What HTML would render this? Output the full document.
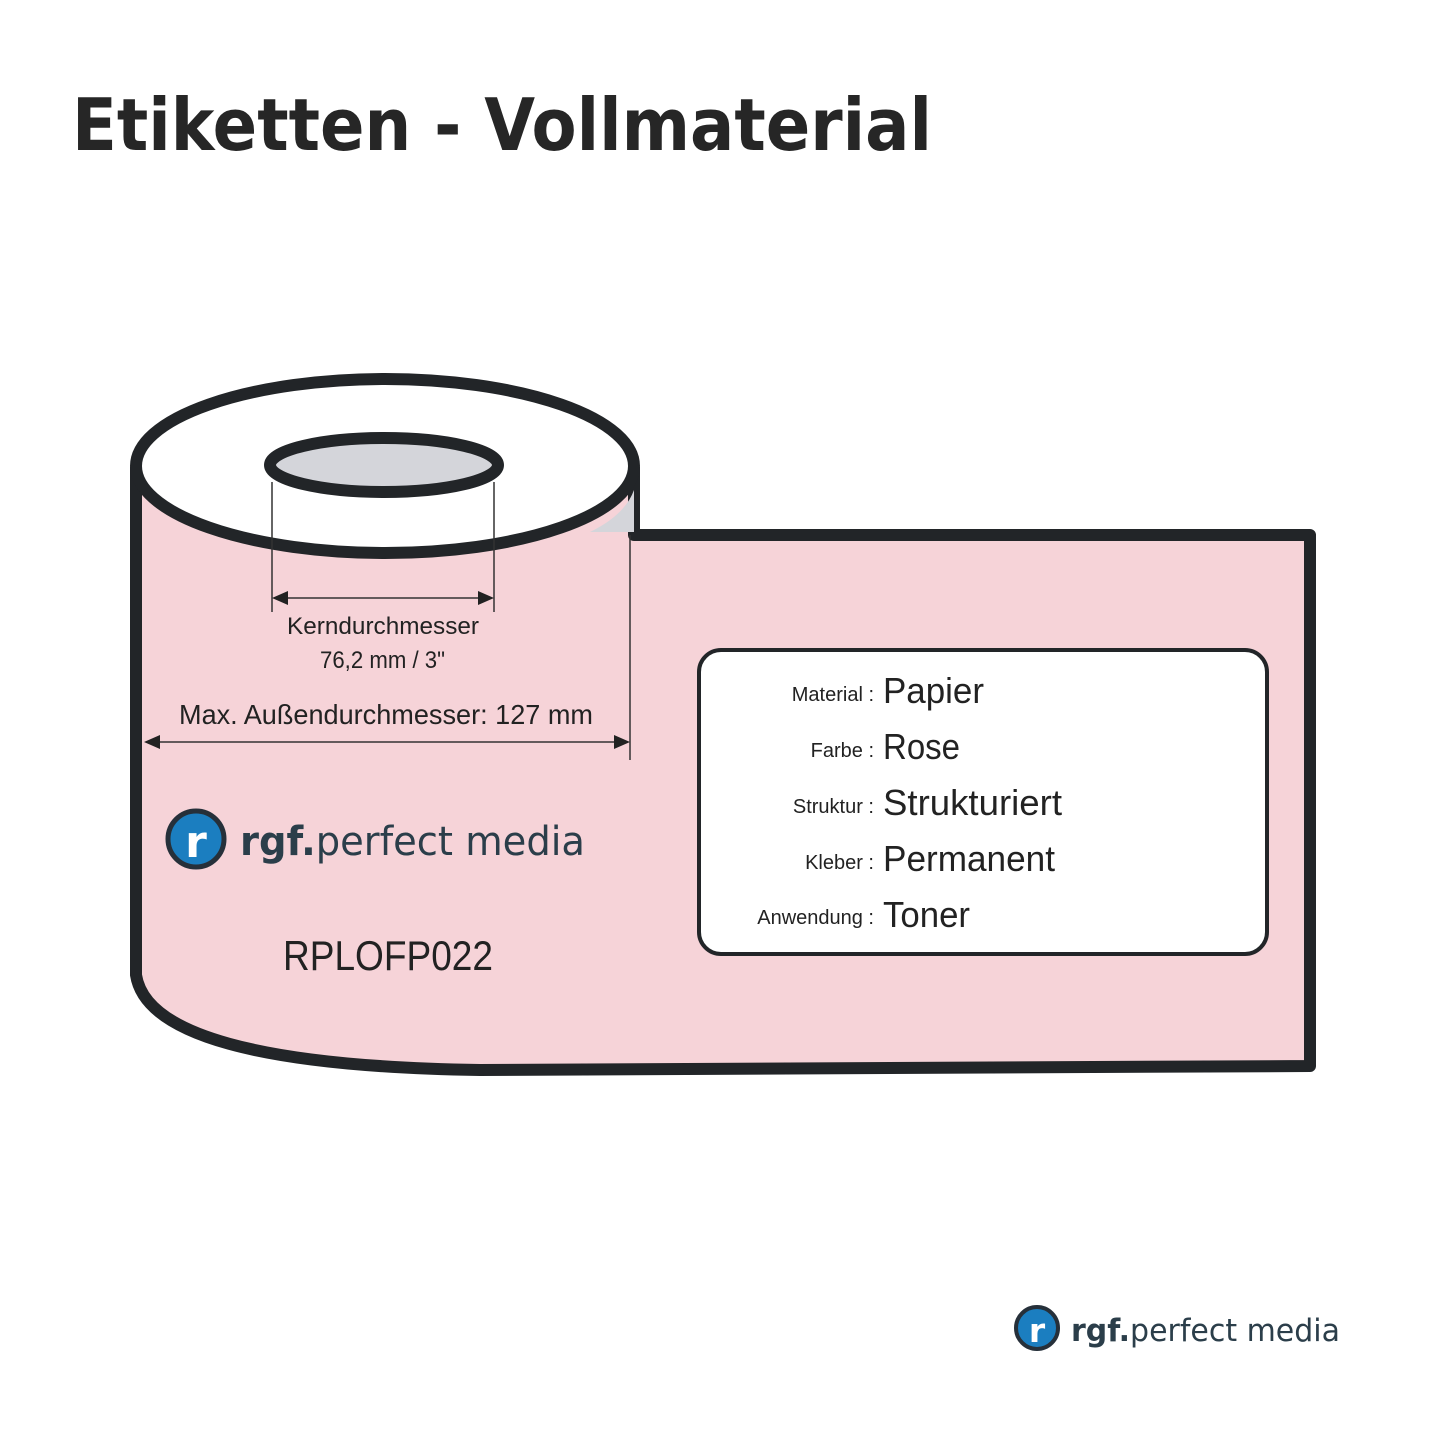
<!DOCTYPE html>
<html><head><meta charset="utf-8"><style>
body{margin:0;background:#fff;}
svg{display:block}
</style></head><body>
<svg width="1445" height="1445" viewBox="0 0 1445 1445" xmlns="http://www.w3.org/2000/svg">
<rect width="1445" height="1445" fill="#fff"/>
<text x="72" y="150" font-family="DejaVu Sans, Liberation Sans, sans-serif" font-weight="bold" font-size="72" fill="#262626" textLength="860" lengthAdjust="spacingAndGlyphs">Etiketten - Vollmaterial</text>
<path d="M560,530 L634,530 L634,470 Z" fill="#d4d5da"/>
<path d="M136,467 L136,975 Q150,1065 480,1070 L1310,1066 L1310,535 L634,535 L634,467" fill="#f6d3d8" stroke="#222528" stroke-width="12" stroke-linejoin="round"/>
<path d="M590,532 Q625,515 634,490 L634,532 Z" fill="#d4d5da"/>
<ellipse cx="385" cy="466" rx="249" ry="87" fill="#fff" stroke="#222528" stroke-width="12"/>
<ellipse cx="384" cy="465" rx="114" ry="27" fill="#d4d5da" stroke="#222528" stroke-width="12"/>
<g stroke="#333" stroke-width="1.5">
<line x1="272" y1="482" x2="272" y2="612"/>
<line x1="494" y1="482" x2="494" y2="612"/>
<line x1="280" y1="598" x2="486" y2="598"/>
<line x1="630" y1="535" x2="630" y2="760"/>
<line x1="150" y1="742" x2="624" y2="742"/>
</g>
<path d="M272,598 l16,-7 v14z M494,598 l-16,-7 v14z M144,742 l16,-7 v14z M630,742 l-16,-7 v14z" fill="#222"/>
<g font-family="Liberation Sans, sans-serif" fill="#222">
<text x="287" y="634" font-size="24" textLength="192" lengthAdjust="spacingAndGlyphs">Kerndurchmesser</text>
<text x="320" y="668" font-size="24" textLength="125" lengthAdjust="spacingAndGlyphs">76,2 mm / 3"</text>
<text x="179" y="724" font-size="28" textLength="414" lengthAdjust="spacingAndGlyphs">Max. Außendurchmesser: 127 mm</text>
<text x="283" y="970" font-size="42" textLength="210" lengthAdjust="spacingAndGlyphs">RPLOFP022</text>
</g>
<circle cx="196" cy="839" r="28" fill="#1b7ec0" stroke="#26303a" stroke-width="5"/>
<text x="196" y="857" font-family="DejaVu Sans, sans-serif" font-weight="bold" font-size="44" fill="#fff" text-anchor="middle">r</text>
<text x="240" y="855" font-family="DejaVu Sans, sans-serif" font-size="40" fill="#2b3e4a" textLength="345" lengthAdjust="spacingAndGlyphs"><tspan font-weight="bold">rgf.</tspan>perfect media</text>
<rect x="699" y="650" width="568" height="304" rx="22" fill="#fff" stroke="#222528" stroke-width="4"/>
<g font-family="Liberation Sans, sans-serif" fill="#222">
<g font-size="20" text-anchor="end">
<text x="874" y="701">Material :</text>
<text x="874" y="757">Farbe :</text>
<text x="874" y="813">Struktur :</text>
<text x="874" y="869">Kleber :</text>
<text x="874" y="924">Anwendung :</text>
</g>
<g font-size="36">
<text x="883" y="703" textLength="101" lengthAdjust="spacingAndGlyphs">Papier</text>
<text x="883" y="759" textLength="77" lengthAdjust="spacingAndGlyphs">Rose</text>
<text x="883" y="815" textLength="179" lengthAdjust="spacingAndGlyphs">Strukturiert</text>
<text x="883" y="871" textLength="172" lengthAdjust="spacingAndGlyphs">Permanent</text>
<text x="883" y="927" textLength="87" lengthAdjust="spacingAndGlyphs">Toner</text>
</g>
</g>
<circle cx="1037" cy="1328" r="21" fill="#1b7ec0" stroke="#26303a" stroke-width="4"/>
<text x="1037" y="1342" font-family="DejaVu Sans, sans-serif" font-weight="bold" font-size="33" fill="#fff" text-anchor="middle">r</text>
<text x="1071" y="1341" font-family="DejaVu Sans, sans-serif" font-size="31" fill="#2b3e4a" textLength="269" lengthAdjust="spacingAndGlyphs"><tspan font-weight="bold">rgf.</tspan>perfect media</text>
</svg>
</body></html>
